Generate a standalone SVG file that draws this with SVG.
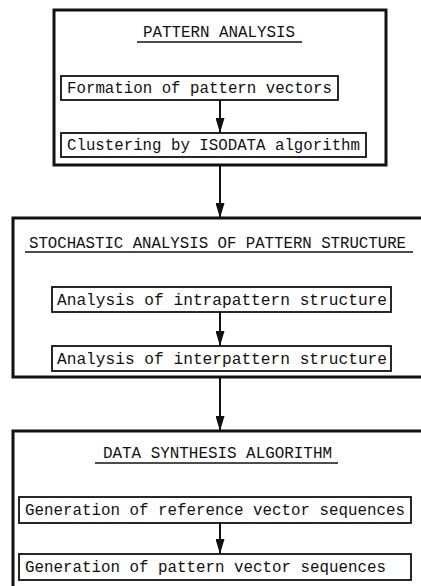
<svg xmlns="http://www.w3.org/2000/svg" width="421" height="586" viewBox="0 0 421 586">
<defs>
<style>
.outer{fill:none;stroke:#111;stroke-width:3}
.inner{fill:none;stroke:#111;stroke-width:1.8}
.t{font-family:"Liberation Mono","DejaVu Sans Mono",monospace;font-size:16.5px;fill:#111}
.ul{stroke:#111;stroke-width:1.5}
.conn{stroke:#111;stroke-width:2;fill:none}
</style>
<marker id="ah" markerUnits="userSpaceOnUse" markerWidth="15" markerHeight="9" viewBox="0 0 15 9" refX="15" refY="4.5" orient="auto">
<path d="M0,0 L15,4.5 L0,9 Z" fill="#111"/>
</marker>
</defs>
<rect width="421" height="586" fill="#fff"/>

<g id="pattern-analysis">
<rect class="outer" x="54" y="10" width="332" height="155"/>
<text class="t" x="143" y="37" textLength="152" lengthAdjust="spacingAndGlyphs">PATTERN ANALYSIS</text>
<line class="ul" x1="137" y1="42" x2="302" y2="42"/>
</g>
<g id="formation">
<rect class="inner" x="61" y="76" width="277" height="24"/>
<text class="t" x="67" y="93" textLength="265" lengthAdjust="spacingAndGlyphs">Formation of pattern vectors</text>
</g>
<g id="clustering">
<rect class="inner" x="61" y="133" width="305" height="24"/>
<text class="t" x="67" y="150" textLength="293" lengthAdjust="spacingAndGlyphs">Clustering by ISODATA algorithm</text>
</g>

<g id="stochastic-analysis">
<rect class="outer" x="13" y="218" width="411" height="159"/>
<text class="t" x="29" y="248" textLength="377" lengthAdjust="spacingAndGlyphs">STOCHASTIC ANALYSIS OF PATTERN STRUCTURE</text>
<line class="ul" x1="25" y1="252" x2="413" y2="252"/>
</g>
<g id="intrapattern">
<rect class="inner" x="52" y="287" width="339" height="25"/>
<text class="t" x="57" y="305" textLength="330" lengthAdjust="spacingAndGlyphs">Analysis of intrapattern structure</text>
</g>
<g id="interpattern">
<rect class="inner" x="52" y="346" width="339" height="25"/>
<text class="t" x="57" y="364" textLength="330" lengthAdjust="spacingAndGlyphs">Analysis of interpattern structure</text>
</g>

<g id="data-synthesis">
<rect class="outer" x="13" y="431" width="411" height="170"/>
<text class="t" x="103" y="458" textLength="229" lengthAdjust="spacingAndGlyphs">DATA SYNTHESIS ALGORITHM</text>
<line class="ul" x1="95" y1="463" x2="338" y2="463"/>
</g>
<g id="reference-vectors">
<rect class="inner" x="19" y="497" width="392" height="26"/>
<text class="t" x="25" y="515" textLength="380" lengthAdjust="spacingAndGlyphs">Generation of reference vector sequences</text>
</g>
<g id="pattern-vectors">
<rect class="inner" x="19" y="554" width="392" height="26"/>
<text class="t" x="25" y="572" textLength="361" lengthAdjust="spacingAndGlyphs">Generation of pattern vector sequences</text>
</g>

<g id="connectors">
<line class="conn" x1="220" y1="100" x2="220" y2="133" marker-end="url(#ah)"/>
<line class="conn" x1="220" y1="165" x2="220" y2="218" marker-end="url(#ah)"/>
<line class="conn" x1="220" y1="312" x2="220" y2="346" marker-end="url(#ah)"/>
<line class="conn" x1="220" y1="377" x2="220" y2="431" marker-end="url(#ah)"/>
<line class="conn" x1="220" y1="523" x2="220" y2="554" marker-end="url(#ah)"/>
</g>
</svg>
